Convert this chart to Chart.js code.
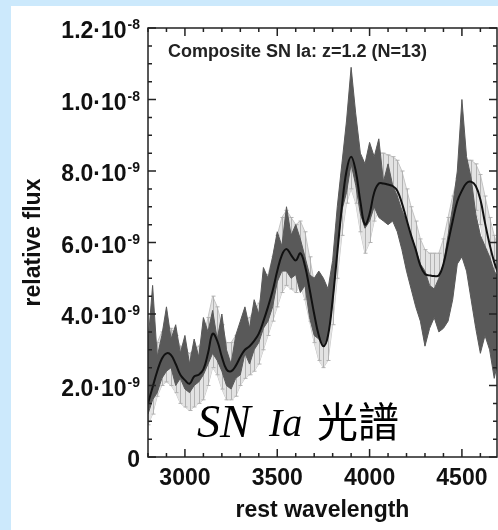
<!DOCTYPE html>
<html>
<head>
<meta charset="utf-8">
<script src="https://cdn.jsdelivr.net/npm/chart.js@4.4.1/dist/chart.umd.min.js"></script>
<style>
	html, body { margin: 0; padding: 0; }
	body { width: 498px; height: 530px; background: rgb(204, 233, 252); position: relative; overflow: hidden; }
	#panel { position: absolute; left: 11px; top: 6px; width: 487px; height: 524px; background: #fff; }
	#chart { display: block; }
</style>
</head>
<body>
<div id="panel"><canvas id="chart" width="487" height="524"></canvas></div>
<script>
// rest wavelength (Angstrom)
var wave = [
	2800, 2825, 2850, 2875, 2900, 2925, 2950, 2975,
	3000, 3025, 3050, 3075, 3100, 3125, 3150, 3175,
	3200, 3225, 3250, 3275, 3300, 3325, 3350, 3375,
	3400, 3425, 3450, 3475, 3500, 3525, 3550, 3575,
	3600, 3625, 3650, 3675, 3700, 3725, 3750, 3775,
	3800, 3825, 3850, 3875, 3900, 3925, 3950, 3975,
	4000, 4025, 4050, 4075, 4100, 4125, 4150, 4175,
	4200, 4225, 4250, 4275, 4300, 4325, 4350, 4375,
	4400, 4425, 4450, 4475, 4500, 4525, 4550, 4575,
	4600, 4625, 4650, 4675, 4700
];

// relative flux, in units of 1e-9
var fluxFit = [
	1.5, 1.95, 2.4, 2.75, 2.9, 2.85, 2.6, 2.3,
	2.15, 2.05, 2.25, 2.3, 2.45, 2.9, 3.45, 3.25,
	2.8, 2.45, 2.4, 2.55, 2.8, 3.0, 3.1, 3.25,
	3.45, 3.8, 4.2, 4.65, 5.2, 5.65, 5.82, 5.65,
	5.5, 5.7, 5.35, 4.7, 4.0, 3.4, 3.1, 3.4,
	4.4, 5.7, 7.0, 8.0, 8.4, 8.0, 7.15, 6.5,
	6.8, 7.4, 7.65, 7.65, 7.62, 7.58, 7.45, 7.1,
	6.65, 6.2, 5.8, 5.35, 5.12, 5.08, 5.06, 5.08,
	5.4, 6.0, 6.6, 7.15, 7.45, 7.66, 7.7, 7.58,
	7.2, 6.55, 5.95, 5.45, 5.1
];

var errHi = [
	2.5, 2.9, 3.2, 3.5, 3.6, 3.6, 3.4, 3.1,
	3.0, 2.9, 3.0, 3.1, 3.3, 3.9, 4.5, 4.2,
	3.7, 3.2, 3.2, 3.4, 3.6, 3.8, 3.9, 4.1,
	4.3, 4.6, 5.1, 5.6, 6.2, 6.7, 6.9, 6.7,
	6.5, 6.6, 6.3, 5.6, 4.9, 4.2, 3.8, 4.1,
	5.1, 6.5, 7.9, 8.9, 9.2, 8.9, 8.0, 7.3,
	7.6, 8.2, 8.5, 8.5, 8.45, 8.4, 8.3, 8.0,
	7.5, 7.0, 6.6, 6.1, 5.8, 5.7, 5.7, 5.7,
	6.1, 6.7, 7.3, 7.8, 8.1, 8.3, 8.3, 8.2,
	7.9, 7.3, 6.7, 6.2, 5.8
];

var errLo = [
	0.9, 1.2, 1.7, 2.0, 2.1, 2.0, 1.8, 1.5,
	1.4, 1.3, 1.4, 1.5, 1.6, 2.0, 2.5, 2.3,
	1.9, 1.6, 1.6, 1.7, 2.0, 2.2, 2.3, 2.4,
	2.6, 3.0, 3.4, 3.8, 4.2, 4.6, 4.8, 4.7,
	4.6, 4.8, 4.4, 3.8, 3.2, 2.7, 2.5, 2.7,
	3.7, 5.0, 6.2, 7.1, 7.5, 7.1, 6.3, 5.7,
	6.0, 6.6, 6.9, 6.9, 6.85, 6.8, 6.7, 6.3,
	5.8, 5.4, 5.0, 4.6, 4.5, 4.5, 4.5, 4.5,
	4.8, 5.3, 5.9, 6.5, 6.8, 7.0, 7.1, 6.9,
	6.5, 5.8, 5.2, 4.7, 4.4
];

var darkHi = [
	3.2, 4.8, 2.8, 3.4, 4.2, 3.3, 3.7, 2.9,
	3.4, 2.6, 3.3, 2.8, 3.9, 3.5, 4.1, 3.3,
	4.0, 3.0, 2.6, 3.4, 3.8, 4.2, 3.6, 4.4,
	4.0, 5.3, 5.0, 5.6, 6.3, 5.9, 7.0, 6.2,
	6.5, 6.1, 5.6, 5.1, 5.0, 5.2, 5.0, 4.7,
	5.5, 7.0, 8.2, 9.4, 10.9, 9.6, 8.5, 8.2,
	8.8, 8.4, 8.9, 7.7, 8.2, 7.6, 7.3, 6.9,
	6.6, 6.2, 5.8, 5.4, 5.2, 4.8, 4.7, 5.0,
	5.4, 6.2, 7.0, 8.0, 10.0, 8.4, 7.8, 6.8,
	6.2, 5.9, 5.6, 5.2, 5.0
];

var darkLo = [
	1.2, 1.6, 1.8, 2.2, 2.4, 2.5, 2.0, 2.2,
	1.9, 1.8, 2.0, 2.1, 2.3, 2.6, 2.9, 2.7,
	2.4, 2.0, 1.9, 2.2, 2.3, 2.9, 2.6, 3.0,
	3.2, 3.6, 3.8, 4.2, 4.9, 5.2, 5.2, 5.0,
	5.1, 4.6, 4.8, 3.9, 3.4, 3.3, 3.1, 3.4,
	4.3, 5.8, 6.9, 7.4, 8.2, 7.6, 6.8, 6.4,
	6.6, 7.0, 6.7, 6.6, 6.5, 6.6, 6.3, 5.8,
	5.2, 4.7, 4.2, 3.8, 3.1, 3.6, 3.9, 3.5,
	3.6, 3.8, 4.4, 5.4, 5.6, 5.2, 4.4, 3.6,
	2.9, 3.4, 3.0, 2.2, 2.8
];

var xTickValues = [3000, 3500, 4000, 4500];
var xTickLabels = ['3000', '3500', '4000', '4500'];
var yTickValues = [0, 2, 4, 6, 8, 10, 12];
var yTickMain = ['0', '2.0·10', '4.0·10', '6.0·10', '8.0·10', '1.0·10', '1.2·10'];
var yTickExp = ['', '-9', '-9', '-9', '-9', '-8', '-8'];

var chartTitle = 'Composite SN Ia: z=1.2 (N=13)';
var overlayLatin = ['SN', 'Ia'];
var overlayHan = '光譜';

var sans = '"Liberation Sans", Arial, Helvetica, sans-serif';
var ink = '#111';

function points(ys) {
	return wave.map(function(w, i) { return {x: w, y: ys[i]}; });
}

// inward ticks on all four sides, frame, y labels with exponents, texts
var decorPlugin = {
	id: 'decor',
	afterDatasetDraw: function(chart, args) {
		if (args.index !== 3) return;
		var ctx = chart.ctx, a = chart.chartArea;
		var x = chart.scales.x, y = chart.scales.y;
		ctx.save();
		ctx.beginPath();
		ctx.rect(a.left, a.top, a.right - a.left, a.bottom - a.top);
		ctx.clip();
		ctx.strokeStyle = '#b2b2b2';
		ctx.lineWidth = 1;
		ctx.beginPath();
		wave.forEach(function(w, i) {
			var px = Math.round(x.getPixelForValue(w)) + 0.5;
			var hi = y.getPixelForValue(errHi[i]);
			var lo = y.getPixelForValue(errLo[i]);
			ctx.moveTo(px, hi); ctx.lineTo(px, lo);
			ctx.moveTo(px - 2, hi); ctx.lineTo(px + 2, hi);
			ctx.moveTo(px - 2, lo); ctx.lineTo(px + 2, lo);
		});
		ctx.stroke();
		ctx.restore();
	},
	afterDraw: function(chart) {
		var ctx = chart.ctx, a = chart.chartArea;
		var x = chart.scales.x, y = chart.scales.y;
		var v, px, py, i;

		ctx.save();
		ctx.strokeStyle = '#222';
		ctx.lineWidth = 1.5;
		ctx.strokeRect(a.left, a.top, a.right - a.left, a.bottom - a.top);

		ctx.beginPath();
		for (v = 2800; v <= x.max; v += 100) {
			px = x.getPixelForValue(v);
			var lx = (v % 500 === 0) ? 8 : 4;
			ctx.moveTo(px, a.bottom); ctx.lineTo(px, a.bottom - lx);
			ctx.moveTo(px, a.top); ctx.lineTo(px, a.top + lx);
		}
		for (v = 0; v <= y.max; v += 0.5) {
			py = y.getPixelForValue(v);
			var ly = (v % 2 === 0) ? 8 : 4;
			ctx.moveTo(a.left, py); ctx.lineTo(a.left + ly, py);
			ctx.moveTo(a.right, py); ctx.lineTo(a.right - ly, py);
		}
		ctx.stroke();

		// y tick labels  m·10^e
		ctx.fillStyle = ink;
		ctx.textAlign = 'right';
		ctx.textBaseline = 'alphabetic';
		for (i = 0; i < yTickValues.length; i++) {
			py = y.getPixelForValue(yTickValues[i]);
			var xr = a.left - 8;
			if (yTickExp[i]) {
				ctx.font = 'bold 14px ' + sans;
				ctx.fillText(yTickExp[i], xr, py + 1);
				xr -= ctx.measureText(yTickExp[i]).width + 1;
			}
			ctx.font = 'bold 23px ' + sans;
			ctx.fillText(yTickMain[i], xr, py + 10);
		}

		// panel title
		ctx.textAlign = 'left';
		ctx.font = 'bold 18px ' + sans;
		ctx.fillStyle = '#222';
		ctx.fillText(chartTitle, a.left + 20, a.top + 29);

		// overlay caption
		ctx.fillStyle = '#000';
		ctx.font = 'italic 46px "Liberation Serif", "Times New Roman", serif';
		ctx.fillText(overlayLatin[0], 186, 431);
		ctx.font = 'italic 40px "Liberation Serif", "Times New Roman", serif';
		ctx.fillText(overlayLatin[1], 258, 430);
		ctx.font = '41px "Noto Sans CJK TC", "Noto Sans CJK SC", sans-serif';
		ctx.fillText(overlayHan, 306, 431);
		ctx.restore();
	}
};

new Chart(document.getElementById('chart'), {
	type: 'line',
	data: {
		datasets: [
			{
				label: 'fit',
				data: points(fluxFit),
				borderColor: ink,
				borderWidth: 2,
				pointRadius: 0,
				tension: 0.4,
				fill: false,
				order: 1
			},
			{
				label: 'spread high',
				data: points(darkHi),
				borderColor: '#595959',
				backgroundColor: '#595959',
				borderWidth: 1,
				pointRadius: 0,
				tension: 0,
				fill: '+1',
				order: 2
			},
			{
				label: 'spread low',
				data: points(darkLo),
				borderColor: '#595959',
				borderWidth: 1,
				pointRadius: 0,
				tension: 0,
				fill: false,
				order: 3
			},
			{
				label: 'error high',
				data: points(errHi),
				borderColor: '#c4c4c4',
				backgroundColor: '#e3e3e3',
				borderWidth: 1,
				pointRadius: 0,
				tension: 0,
				fill: '+1',
				order: 4
			},
			{
				label: 'error low',
				data: points(errLo),
				borderColor: '#c4c4c4',
				borderWidth: 1,
				pointRadius: 0,
				tension: 0,
				fill: false,
				order: 5
			}
		]
	},
	options: {
		responsive: false,
		animation: false,
		layout: { padding: { top: 22, right: 1, left: 0, bottom: 0 } },
		plugins: {
			legend: { display: false },
			tooltip: { enabled: false }
		},
		scales: {
			x: {
				type: 'linear',
				min: 2800,
				max: 4690,
				grid: { display: false, drawTicks: false },
				border: { display: false },
				afterBuildTicks: function(s) {
					s.ticks = xTickValues.map(function(v) { return {value: v}; });
				},
				afterFit: function(s) { s.height = 73; },
				ticks: {
					autoSkip: false,
					maxRotation: 0,
					padding: 8,
					color: ink,
					font: { family: sans, size: 23, weight: 'bold' },
					callback: function(value) {
						var k = xTickValues.indexOf(value);
						return k >= 0 ? xTickLabels[k] : '';
					}
				},
				title: {
					display: true,
					text: 'rest wavelength',
					color: ink,
					font: { family: sans, size: 23, weight: 'bold' },
					padding: { top: 0, bottom: 6 }
				}
			},
			y: {
				min: 0,
				max: 12,
				grid: { display: false, drawTicks: false },
				border: { display: false },
				afterBuildTicks: function(s) {
					s.ticks = yTickValues.map(function(v) { return {value: v}; });
				},
				afterFit: function(s) { s.width = 137; },
				ticks: { display: false },
				title: {
					display: true,
					text: 'relative flux',
					color: ink,
					font: { family: sans, size: 23, weight: 'bold' },
					padding: { top: 9, bottom: 0 }
				}
			}
		}
	},
	plugins: [decorPlugin]
});
</script>
</body>
</html>
